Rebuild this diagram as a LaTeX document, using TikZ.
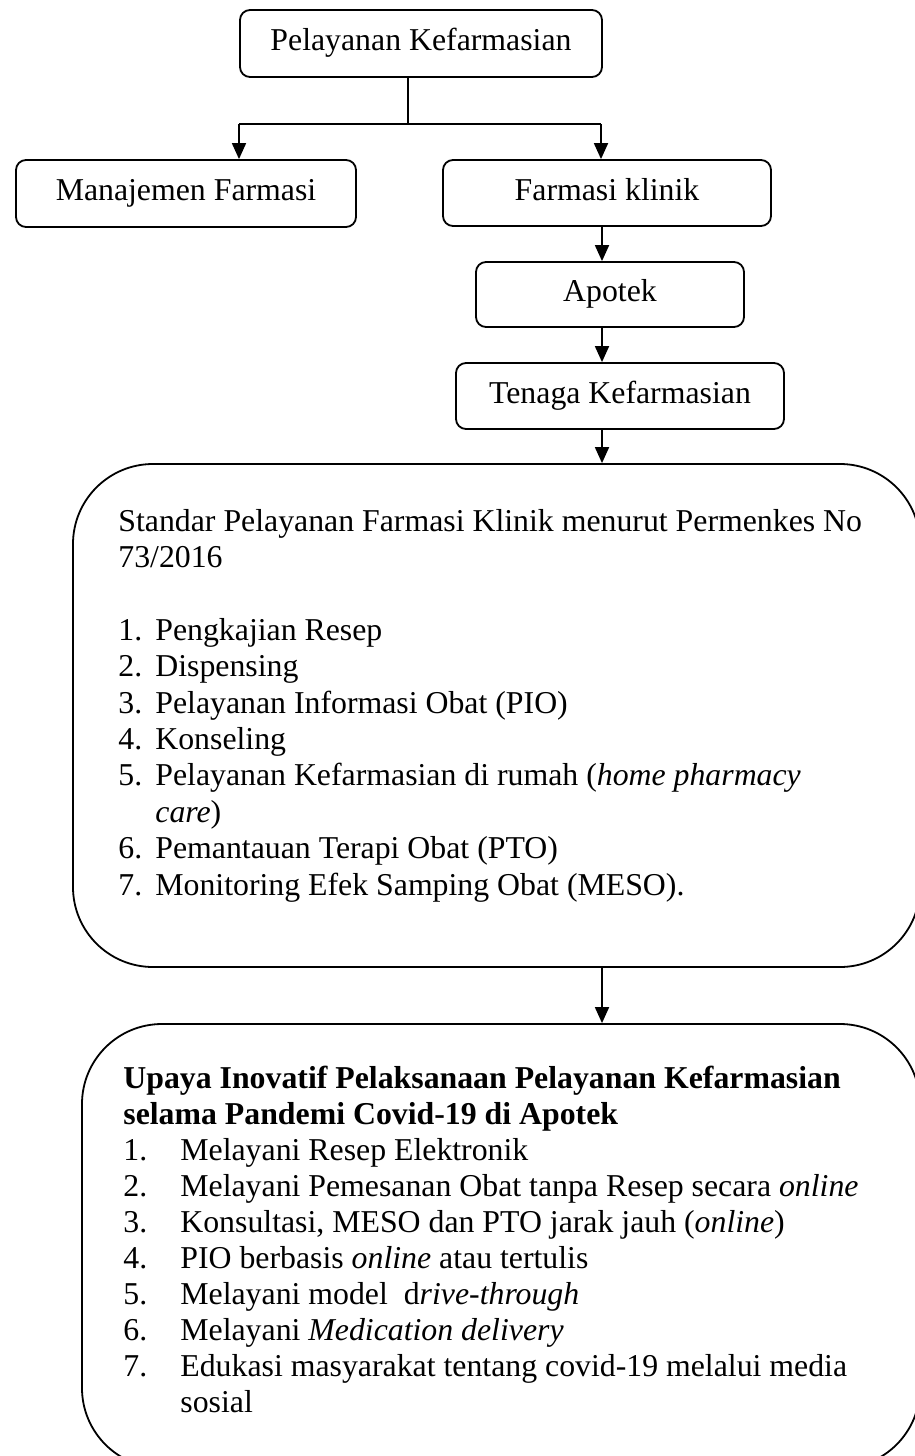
\documentclass[tikz,border=0pt]{standalone}
\usepackage{fontspec}
\setmainfont{Liberation Serif}
\usetikzlibrary{arrows.meta,calc}
\newcommand\diagfont{\fontsize{15.9}{18.2}\selectfont}
\newcommand\numA[1]{\makebox[18.5pt][l]{#1}}
\newcommand\numB[1]{\makebox[28.5pt][l]{#1}}
\begin{document}
\begin{tikzpicture}[x=0.5pt,y=-0.5pt,
  box/.style={draw, line width=0.9pt, rounded corners=5pt, inner sep=0pt, font=\diagfont, text height=0.82em, text depth=0.08em},
  bigbox/.style={draw, line width=0.9pt, rounded corners=40pt, inner sep=0pt},
  txt/.style={anchor=base west, inner sep=0pt},
  conn/.style={line width=0.9pt},
  arr/.style={line width=0.9pt, -{Triangle[width=7pt,length=8pt]}}]
\useasboundingbox (0,0) rectangle (915,1456);

% small boxes
\node[box, minimum width=181pt, minimum height=33.5pt] (P) at (421,43.5) {Pelayanan Kefarmasian};
\node[box, minimum width=170pt, minimum height=33.5pt] (M) at (186,193.5) {Manajemen Farmasi};
\node[box, minimum width=164pt, minimum height=33pt] (F) at (607,193) {Farmasi klinik};
\node[box, minimum width=134pt, minimum height=32.5pt] (A) at (610,294.5) {Apotek};
\node[box, minimum width=164pt, minimum height=33pt] (T) at (620,396) {Tenaga Kefarmasian};

% big boxes (clipped at the picture edge)
\begin{scope}
\clip (0,0) rectangle (915,1456);
\node[bigbox, minimum width=423.5pt, minimum height=251.5pt] (S1) at (496.5,715.5) {};
\node[bigbox, minimum width=419pt, minimum height=222pt] (S2) at (501,1246) {};
\end{scope}

% texts of big boxes
\node[txt] (S1txt) at (118,531) {\parbox[t]{400pt}{\diagfont
Standar Pelayanan Farmasi Klinik menurut Permenkes No\\
73/2016\\[18.2pt]
\numA{1.}Pengkajian Resep\\
\numA{2.}Dispensing\\
\numA{3.}Pelayanan Informasi Obat (PIO)\\
\numA{4.}Konseling\\
\numA{5.}Pelayanan Kefarmasian di rumah (\textit{home pharmacy}\\
\hspace*{18.5pt}\textit{care})\\
\numA{6.}Pemantauan Terapi Obat (PTO)\\
\numA{7.}Monitoring Efek Samping Obat (MESO).}};

\node[txt] (S2txt) at (123,1088) {\parbox[t]{400pt}{\fontsize{15.9}{18}\selectfont
\textbf{Upaya Inovatif Pelaksanaan Pelayanan Kefarmasian}\\
\textbf{selama Pandemi Covid-19 di Apotek}\\
\numB{1.}Melayani Resep Elektronik\\
\numB{2.}Melayani Pemesanan Obat tanpa Resep secara \textit{online}\\
\numB{3.}Konsultasi, MESO dan PTO jarak jauh (\textit{online})\\
\numB{4.}PIO berbasis \textit{online} atau tertulis\\
\numB{5.}Melayani model\ \ d\textit{rive-through}\\
\numB{6.}Melayani \textit{Medication delivery}\\
\numB{7.}Edukasi masyarakat tentang covid-19 melalui media\\
\hspace*{28.5pt}sosial}};

% connectors
\coordinate (j) at (408,124);
\coordinate (jm) at (239,124);
\coordinate (jf) at (601,124);
\coordinate (cx) at (602,0);
\draw[conn] (P.south -| j) -- (j);
\draw[conn] (jm) -- (jf);
\draw[arr] (jm) -- (jm |- M.north);
\draw[arr] (jf) -- (jf |- F.north);
\draw[arr] (F.south -| cx) -- (A.north -| cx);
\draw[arr] (A.south -| cx) -- (T.north -| cx);
\draw[arr] (T.south -| cx) -- (S1.north -| cx);
\draw[arr] (S1.south -| cx) -- (S2.north -| cx);
\end{tikzpicture}
\end{document}
